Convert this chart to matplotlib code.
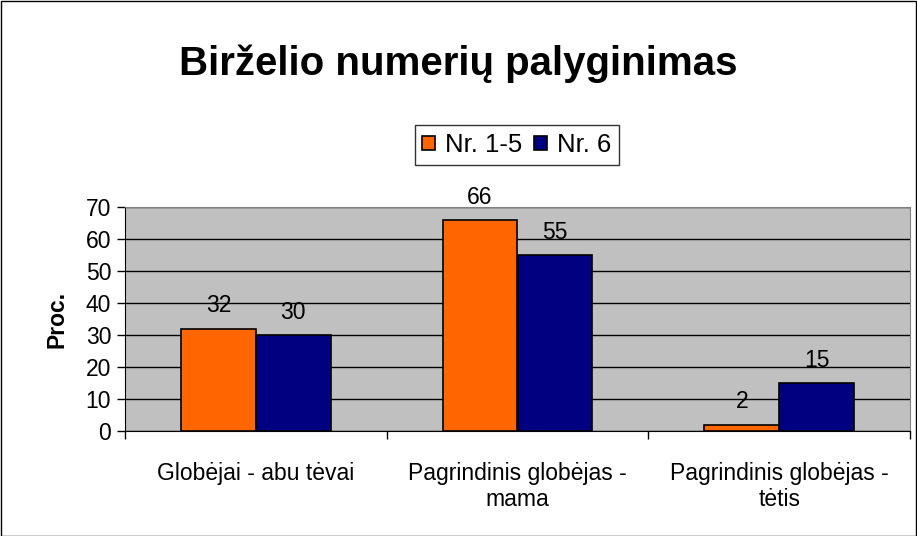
import matplotlib
matplotlib.use("Agg")
import matplotlib.pyplot as plt
import numpy as np
from matplotlib.patches import Rectangle

plt.rcParams['font.family'] = ['Liberation Sans', 'DejaVu Sans']

# data
categories = ["Globėjai - abu tėvai", "Pagrindinis globėjas -\nmama",
              "Pagrindinis globėjas -\ntėtis"]
series_names = ["Nr. 1-5", "Nr. 6"]
vals_1_5 = [32, 66, 2]
vals_6 = [30, 55, 15]
colors = ["#FF6600", "#000080"]

fs = 16.5

fig = plt.figure(figsize=(9.17, 5.36), dpi=100)
ax = fig.add_axes([125/917, 1 - 431/536, (910 - 125)/917, (431 - 207)/536])
ax.set_facecolor("#C0C0C0")

x = np.arange(len(categories))
w = 1 / 3.5
b1 = ax.bar(x - w/2, vals_1_5, w, color=colors[0], edgecolor="black",
            linewidth=1.2, label=series_names[0], zorder=3)
b2 = ax.bar(x + w/2, vals_6, w, color=colors[1], edgecolor="black",
            linewidth=1.2, label=series_names[1], zorder=3)

for bars in (b1, b2):
    for r in bars:
        ax.annotate(str(int(r.get_height())),
                    (r.get_x() + r.get_width()/2, r.get_height()),
                    xytext=(0, 8), textcoords="offset points",
                    ha="center", va="bottom", fontsize=fs, zorder=4)

ax.set_xlim(-0.5, 2.5)
ax.set_ylim(0, 70)
ax.set_yticks(range(0, 71, 10))
ax.yaxis.grid(True, color="black", linewidth=1, zorder=1)
ax.set_axisbelow(True)
ax.tick_params(axis="y", labelsize=fs, length=6, width=1, direction="out", pad=4)

# category labels between boundary ticks
ax.set_xticks([-0.5, 0.5, 1.5, 2.5])
ax.set_xticklabels([])
ax.tick_params(axis="x", length=6, width=1, direction="out")
ax.set_xticks(x, minor=True)
ax.set_xticklabels(categories, minor=True, fontsize=fs, linespacing=1.2)
ax.tick_params(axis="x", which="minor", length=0, pad=22)

for s in ("top", "right"):
    ax.spines[s].set_color("#808080")
ax.spines["left"].set_color("black")
ax.spines["bottom"].set_color("black")

ax.set_ylabel("Proc.", fontsize=fs, fontweight="bold", labelpad=12)

fig.text(458/917, 1 - 75/536, "Birželio numerių palyginimas", ha="center",
         va="baseline", fontsize=29, fontweight="bold")

leg = fig.legend(handles=[b1, b2], labels=series_names, loc="center",
                 bbox_to_anchor=(517/917, 1 - 145/536), ncol=2, fontsize=18.5,
                 frameon=True, fancybox=False, edgecolor="black",
                 handlelength=0.5, handleheight=0.5, handletextpad=0.4,
                 columnspacing=0.45, borderpad=0.3, borderaxespad=0)
leg.get_frame().set_linewidth(1)

fig.patches.append(Rectangle((0.5/917, 0.5/536), 1 - 1.5/917, 1 - 1.5/536,
                             transform=fig.transFigure, fill=False,
                             edgecolor="black", linewidth=1))

fig.savefig("out.png", dpi=100)
